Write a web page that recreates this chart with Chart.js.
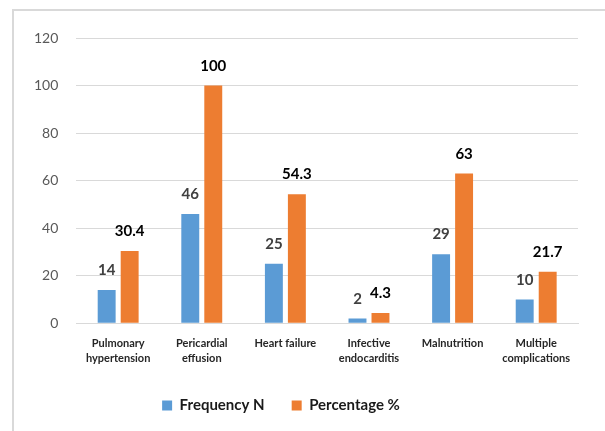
<!DOCTYPE html>
<html>
<head>
<meta charset="utf-8">
<script src="https://cdn.jsdelivr.net/npm/chart.js@4"></script>
<style>
  body { margin: 0; background: #fff; }
  #wrap { position: relative; width: 605px; height: 431px; }
  #frame { position: absolute; left: 12px; top: 9px; right: 0; bottom: 0;
           border-top: 2px solid #D9D9D9; border-left: 2px solid #D9D9D9; }
  canvas { position: absolute; left: 0; top: 0; }
</style>
</head>
<body>
<div id="wrap">
  <div id="frame"></div>
  <canvas id="grafica" width="605" height="431"></canvas>
</div>
<script>
"use strict";

// categorias del eje X
let categorias = [
    ["Pulmonary", "hypertension"],
    ["Pericardial", "effusion"],
    "Heart failure",
    ["Infective", "endocarditis"],
    "Malnutrition",
    ["Multiple", "complications"]
];
let frecuencia = [14, 46, 25, 2, 29, 10];
let porcentaje = [30.4, 100, 54.3, 4.3, 63, 21.7];
let ticksY = [0, 20, 40, 60, 80, 100, 120];

const fuente = "Lato, 'Open Sans', sans-serif";

// etiquetas de valor arriba de cada barra
const etiquetasBarras = {
    id: "etiquetasBarras",
    afterDatasetsDraw(chart) {
        const ctx = chart.ctx;
        ctx.save();
        ctx.font = "bold 15px " + fuente;
        ctx.textAlign = "center";
        ctx.textBaseline = "alphabetic";
        chart.data.datasets.forEach((ds, i) => {
            ctx.fillStyle = i === 0 ? "#404040" : "#000000";
            chart.getDatasetMeta(i).data.forEach((bar, j) => {
                ctx.fillText(String(ds.data[j]), bar.x, bar.y - 15);
            });
        });
        ctx.restore();
    }
};

// la leyenda del original esta corrida a la izquierda
const correrLeyenda = {
    id: "correrLeyenda",
    afterLayout(chart) {
        chart.legend.left -= 16;
        chart.legend.right -= 16;
    }
};

const ctx = document.getElementById("grafica").getContext("2d");
new Chart(ctx, {
    type: "bar",
    data: {
        labels: categorias,
        datasets: [
            {
                label: "Frequency N",
                data: frecuencia,
                backgroundColor: "#5B9BD5",
                categoryPercentage: 0.55,
                barPercentage: 0.78
            },
            {
                label: "Percentage %",
                data: porcentaje,
                backgroundColor: "#ED7D31",
                categoryPercentage: 0.55,
                barPercentage: 0.78
            }
        ]
    },
    options: {
        responsive: false,
        animation: false,
        layout: { padding: { left: 16, right: 27, top: 38, bottom: 8 } },
        plugins: {
            tooltip: { enabled: false },
            legend: {
                position: "bottom",
                labels: {
                    boxWidth: 10,
                    boxHeight: 10,
                    padding: 27,
                    color: "#1a1a1a",
                    font: { family: fuente, size: 15, weight: "bold" }
                }
            }
        },
        scales: {
            x: {
                grid: { display: false },
                border: { color: "#D9D9D9", width: 1 },
                ticks: {
                    color: "#262626",
                    padding: 5,
                    maxRotation: 0,
                    autoSkip: false,
                    font: { family: fuente, size: 11, weight: "bold", lineHeight: 1.35 }
                }
            },
            y: {
                min: 0,
                max: 120,
                afterBuildTicks: (axis) => { axis.ticks = ticksY.map(v => ({ value: v })); },
                grid: { color: "#D9D9D9", lineWidth: 1, drawTicks: false },
                border: { display: false },
                ticks: {
                    color: "#595959",
                    padding: 18,
                    font: { family: fuente, size: 14 }
                }
            }
        }
    },
    plugins: [etiquetasBarras, correrLeyenda]
});
</script>
</body>
</html>
